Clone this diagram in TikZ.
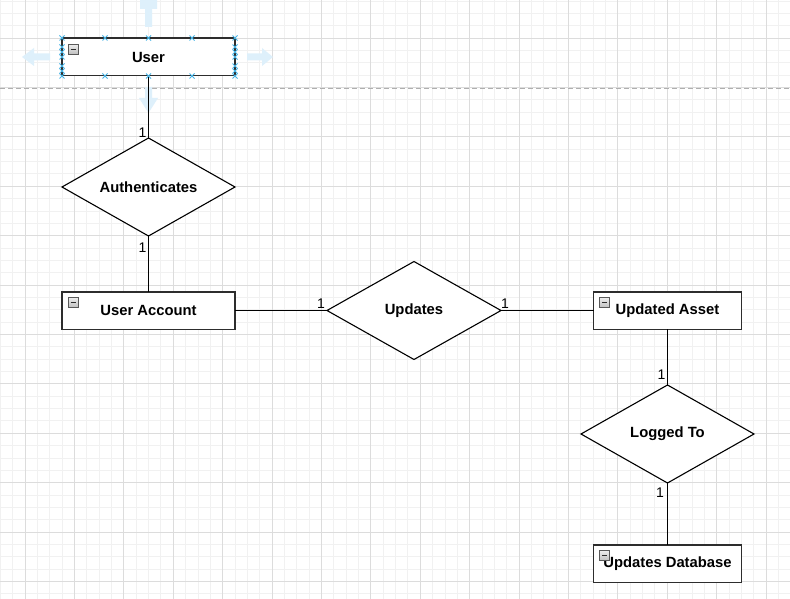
\documentclass[tikz,border=0pt]{standalone}
\usepackage{fontspec}
\setmainfont{Liberation Sans}
\usepackage{tikz}
\usetikzlibrary{shapes.geometric, positioning}

\definecolor{minorline}{RGB}{241,241,241}
\definecolor{majorline}{RGB}{220,220,220}
\definecolor{edgegray}{RGB}{45,45,45}
\definecolor{handleblue}{RGB}{70,180,230}
\definecolor{hintblue}{RGB}{222,240,251}
\definecolor{pagebreak}{RGB}{175,175,175}

% collapse icon in the top left corner of an entity
\newcommand{\collapsebox}[1]{%
  \draw[icon] ([shift={(6,6)}]#1.north west) rectangle ++(10,10);
  \draw[edgegray, line width=1.4pt] ([shift={(8.5,11)}]#1.north west) -- ++(5,0);
}

\begin{document}
\begin{tikzpicture}[
    x=1pt, y=-1pt,
    entity/.style={draw=edgegray, line width=1.5pt, rectangle, fill=white, minimum width=173pt, minimum height=37.5pt, inner sep=0pt, outer sep=0pt, font=\fontsize{14.8}{17}\selectfont\bfseries},
    relation/.style={draw=black, line width=1.1pt, diamond, aspect=1.77, fill=white, minimum width=173pt, minimum height=98pt, inner sep=0pt, outer sep=0pt, font=\fontsize{14.8}{17}\selectfont\bfseries},
    card/.style={font=\fontsize{14}{16}\selectfont, inner sep=0pt},
    link/.style={draw=black, line width=1.1pt},
    handle/.style={draw=handleblue, line width=1pt},
    hint/.style={fill=hintblue},
    icon/.style={draw=gray!70!black, line width=0.6pt, top color=gray!15, bottom color=gray!50},
]
\useasboundingbox[fill=white] (0,0) rectangle (790,599);

% Grid
\begin{scope}
\clip (0,0) rectangle (790,599);
\foreach \k in {0,...,64} \draw[minorline, line width=0.8pt] ({0.3+\k*12.35},0) -- ++(0,599);
\foreach \k in {0,...,49} \draw[minorline, line width=0.8pt] (0,{0.95+\k*12.35}) -- ++(790,0);
\foreach \k in {0,...,15} \draw[majorline, line width=0.8pt] ({25+\k*49.4},0) -- ++(0,599);
\foreach \k in {0,...,11} \draw[majorline, line width=0.8pt] (0,{38+\k*49.4}) -- ++(790,0);
\end{scope}

% Page break
\draw[pagebreak, dash pattern=on 5pt off 3pt, line width=0.8pt] (0,88) -- (790,88);

% Entities
\node[entity] (user) at (148.5,57) {User};
\node[entity] (account) at (148.5,310.5) {User Account};
\node[entity, minimum width=148pt] (asset) at (667.5,310.5) {Updated Asset};
\node[entity, minimum width=148pt] (db) at (667.5,563.5) {Updates Database};

% Relationships
\node[relation] (auth) at (148.5,187) {Authenticates};
\node[relation, minimum width=174pt] (updates) at (414,310.5) {Updates};
\node[relation] (logged) at (667.5,434) {Logged To};

% Collapse icons
\collapsebox{user}
\collapsebox{account}
\collapsebox{asset}
\collapsebox{db}

% Move hints round the selected entity
\fill[hint] (140,0) -- (157,0) -- (157,9) -- (152,9) -- (152,27) -- (145,27) -- (145,9) -- (140,9) -- cycle;
\fill[hint] (22,57) -- (34,48) -- (34,53.5) -- (50,53.5) -- (50,60.5) -- (34,60.5) -- (34,66) -- cycle;
\fill[hint] (273,57) -- (262,48) -- (262,53.5) -- (247,53.5) -- (247,60.5) -- (262,60.5) -- (262,66) -- cycle;
\fill[hint] (148.5,113) -- (139,98) -- (145,98) -- (145,87) -- (152,87) -- (152,98) -- (158,98) -- cycle;

% Connectors
\draw[link] (user) -- (auth);
\draw[link] (auth) -- (account);
\draw[link] (account) -- (updates);
\draw[link] (updates) -- (asset);
\draw[link] (asset) -- (logged);
\draw[link] (logged) -- (db);

% Selection handles
\foreach \x in {62,105,148.5,192,235}
  \foreach \y in {38,76}
    \draw[handle] (\x,\y) +(-2.5,-2.5) -- +(2.5,2.5) +(-2.5,2.5) -- +(2.5,-2.5);
\foreach \x in {62,235}
  \foreach \y in {47,52,57,66,71}
    \draw[handle] (\x,\y) +(-2.5,-2.5) -- +(2.5,2.5) +(-2.5,2.5) -- +(2.5,-2.5);

% Cardinalities
\node[card, anchor=south east] (c1) at ([shift={(-2,0)}]auth.north) {1};
\node[card, anchor=north east] (c2) at ([shift={(-2,7)}]auth.south) {1};
\node[card, anchor=south east] (c3) at ([shift={(-2,-2)}]updates.west) {1};
\node[card, anchor=south west] (c4) at ([shift={(0,-2)}]updates.east) {1};
\node[card, anchor=south east] (c5) at ([shift={(-2,-5)}]logged.north) {1};
\node[card, anchor=north east] (c6) at ([shift={(-3.5,5)}]logged.south) {1};

\end{tikzpicture}
\end{document}
